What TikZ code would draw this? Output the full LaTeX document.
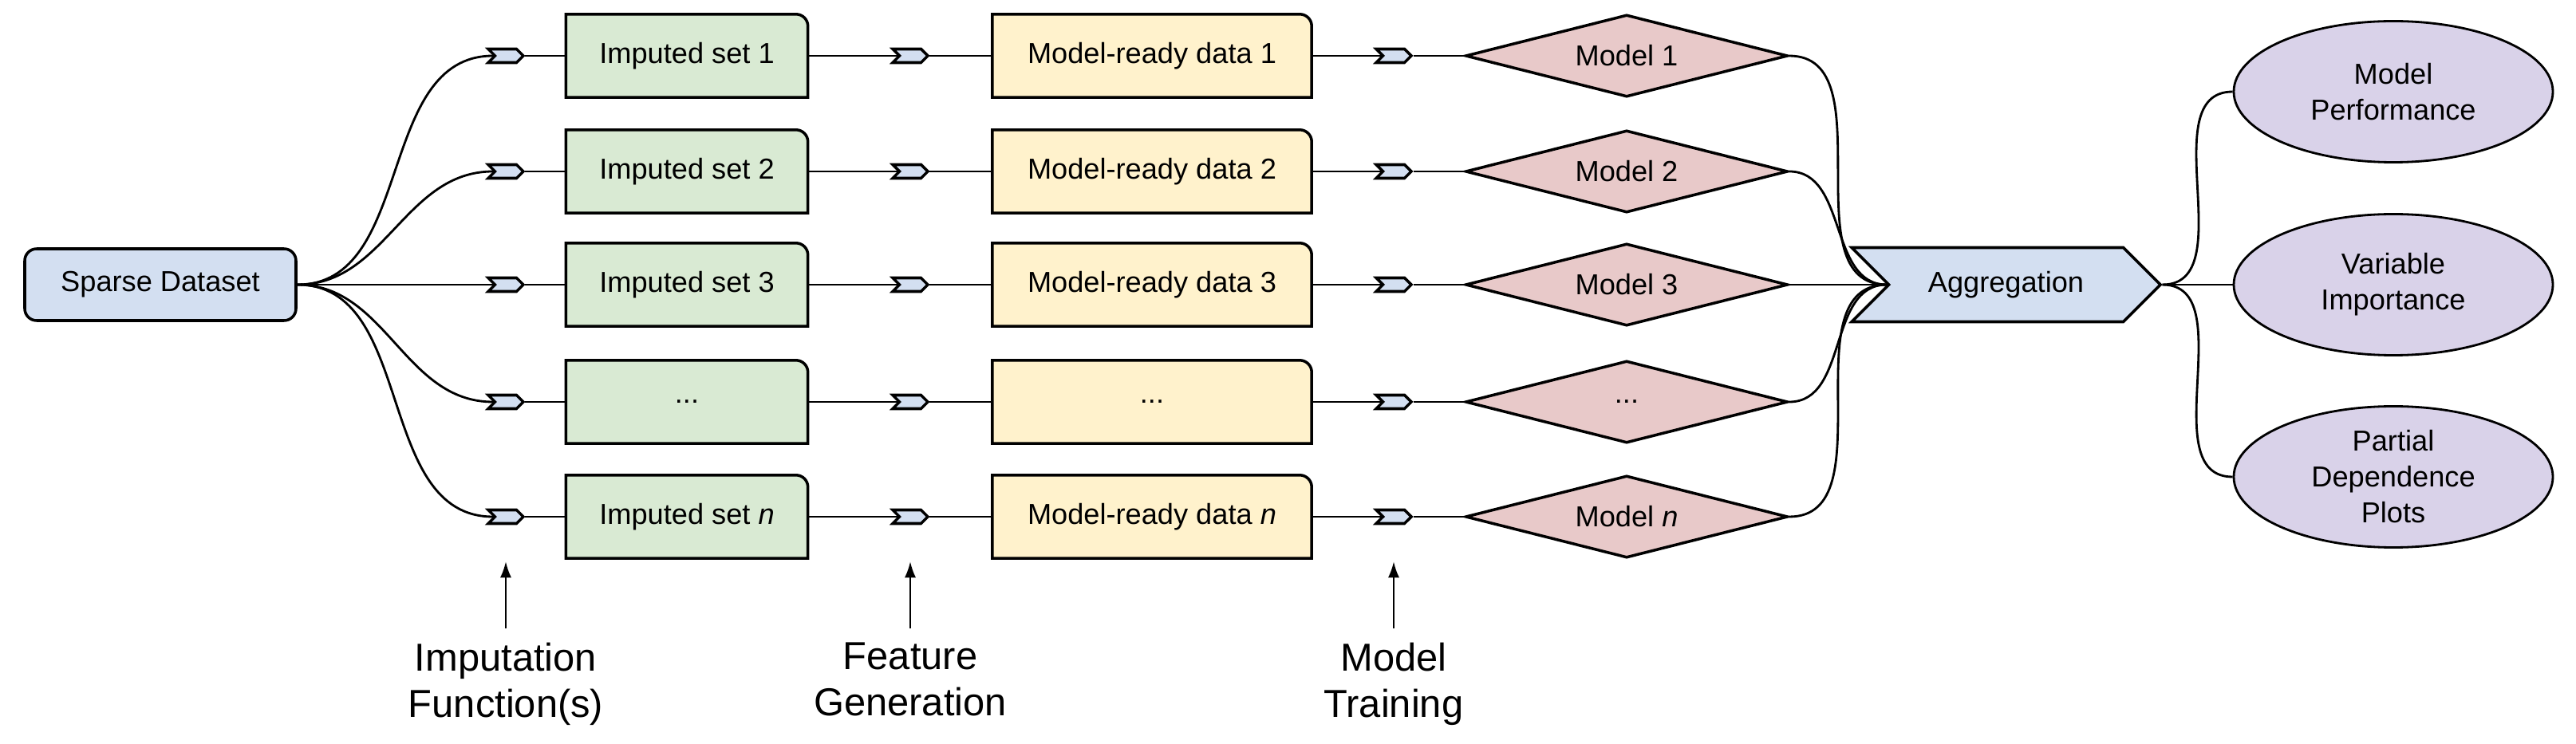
\documentclass[tikz,border=0pt]{standalone}
\usepackage{fontspec}
\setmainfont{Liberation Sans}
\usetikzlibrary{shapes.geometric,shapes.symbols,arrows.meta,backgrounds}

\definecolor{dsblue}{RGB}{211,223,241}
\definecolor{setgreen}{RGB}{217,234,211}
\definecolor{datayellow}{RGB}{255,242,204}
\definecolor{modelpink}{RGB}{232,201,201}
\definecolor{outpurple}{RGB}{217,210,233}

\tikzset{
  boxfont/.style={font=\fontsize{10.3}{12.8}\selectfont},
  boxline/.style={draw=black, line width=1pt},
  sparsebox/.style={boxfont, boxline, fill=dsblue, rounded corners=0.15cm, minimum width=3.4cm, minimum height=0.9cm, inner sep=0pt},
  setbox/.style={boxfont, minimum width=3.02cm, minimum height=1.03cm, inner sep=0pt},
  databox/.style={boxfont, minimum width=3.99cm, minimum height=1.03cm, inner sep=0pt},
  modelshape/.style={boxfont, boxline, fill=modelpink, diamond, aspect=3.9, minimum width=4.04cm, minimum height=1.03cm, inner sep=0pt},
  chevron/.style={boxline, fill=dsblue, signal, signal from=west, signal to=east, minimum width=0.44cm, minimum height=0.17cm, inner sep=0pt},
  aggshape/.style={boxfont, boxline, fill=dsblue, signal, signal from=west, signal to=east, minimum width=3.87cm, minimum height=0.93cm, inner sep=0pt},
  outshape/.style={boxfont, draw=black, line width=0.8pt, fill=outpurple, ellipse, align=center, minimum width=4cm, minimum height=1.77cm, inner sep=0pt},
  link/.style={line width=0.8pt},
  steplabel/.style={font=\fontsize{13.9}{16.5}\selectfont, align=center, anchor=north, inner sep=0pt},
  uparrow/.style={line width=0.6pt, -{Latex[length=0.2cm,width=0.14cm]}, shorten <=0.17cm, shorten >=0.46cm}
}

\begin{document}
\begin{tikzpicture}
    \useasboundingbox (0,0) rectangle (32.29,-9.33);
    % source
    \node (sparse) at (2.01,-3.57) [sparsebox] {Sparse Dataset};
    % imputation
    \node (mi1) at (6.34,-0.70) [chevron] {};
    \node (mi2) at (6.34,-2.15) [chevron] {};
    \node (mi3) at (6.34,-3.57) [chevron] {};
    \node (mi4) at (6.34,-5.04) [chevron] {};
    \node (mi5) at (6.34,-6.48) [chevron] {};
    \node (i1) at (8.61,-0.70) [setbox] {Imputed set 1};
    \node (i2) at (8.61,-2.15) [setbox] {Imputed set 2};
    \node (i3) at (8.61,-3.57) [setbox] {Imputed set 3};
    \node (i4) at (8.61,-5.04) [setbox] {...};
    \node (i5) at (8.61,-6.48) [setbox] {Imputed set \textit{n}};
    % feature generation
    \node (mf1) at (11.41,-0.70) [chevron] {};
    \node (mf2) at (11.41,-2.15) [chevron] {};
    \node (mf3) at (11.41,-3.57) [chevron] {};
    \node (mf4) at (11.41,-5.04) [chevron] {};
    \node (mf5) at (11.41,-6.48) [chevron] {};
    \node (r1) at (14.44,-0.70) [databox] {Model-ready data 1};
    \node (r2) at (14.44,-2.15) [databox] {Model-ready data 2};
    \node (r3) at (14.44,-3.57) [databox] {Model-ready data 3};
    \node (r4) at (14.44,-5.04) [databox] {...};
    \node (r5) at (14.44,-6.48) [databox] {Model-ready data \textit{n}};
    % model training
    \node (mt1) at (17.47,-0.70) [chevron] {};
    \node (mt2) at (17.47,-2.15) [chevron] {};
    \node (mt3) at (17.47,-3.57) [chevron] {};
    \node (mt4) at (17.47,-5.04) [chevron] {};
    \node (mt5) at (17.47,-6.48) [chevron] {};
    \node (d1) at (20.39,-0.70) [modelshape] {Model 1};
    \node (d2) at (20.39,-2.15) [modelshape] {Model 2};
    \node (d3) at (20.39,-3.57) [modelshape] {Model 3};
    \node (d4) at (20.39,-5.04) [modelshape] {...};
    \node (d5) at (20.39,-6.48) [modelshape] {Model \textit{n}};
    % aggregation and outputs
    \node (agg) at (25.145,-3.57) [aggshape] {Aggregation};
    \node (perf) at (30.0,-1.15) [outshape] {Model\\Performance};
    \node (varimp) at (30.0,-3.57) [outshape] {Variable\\Importance};
    \node (pdp) at (30.0,-5.98) [outshape] {Partial\\Dependence\\Plots};
    % step labels
    \node (limp) at (6.34,-8.05) [steplabel] {Imputation\\Function(s)};
    \node (lfeat) at (11.41,-8.05) [steplabel] {Feature\\Generation};
    \node (ltrain) at (17.47,-8.05) [steplabel] {Model\\Training};

    % boxes with one round corner
    \begin{scope}[on background layer]
        \foreach \b/\c in {i1/setgreen,i2/setgreen,i3/setgreen,i4/setgreen,i5/setgreen,r1/datayellow,r2/datayellow,r3/datayellow,r4/datayellow,r5/datayellow}
            \draw[boxline, fill=\c] (\b.south west) -- (\b.north west) -- ([xshift=-0.15cm]\b.north east)
                arc[start angle=90, end angle=0, radius=0.15cm] -- (\b.south east) -- cycle;
    \end{scope}

    % connectors
    \draw[link] (sparse.east) to[out=0,in=180] (mi1.west);
    \draw[link] (sparse.east) to[out=0,in=180] (mi2.west);
    \draw[link] (sparse.east) -- (mi3.west);
    \draw[link] (sparse.east) to[out=0,in=180] (mi4.west);
    \draw[link] (sparse.east) to[out=0,in=180] (mi5.west);
    \draw[link] (mi1.east) -- (i1.west);
    \draw[link] (mi2.east) -- (i2.west);
    \draw[link] (mi3.east) -- (i3.west);
    \draw[link] (mi4.east) -- (i4.west);
    \draw[link] (mi5.east) -- (i5.west);
    \draw[link] (i1.east) -- (mf1.west);
    \draw[link] (i2.east) -- (mf2.west);
    \draw[link] (i3.east) -- (mf3.west);
    \draw[link] (i4.east) -- (mf4.west);
    \draw[link] (i5.east) -- (mf5.west);
    \draw[link] (mf1.east) -- (r1.west);
    \draw[link] (mf2.east) -- (r2.west);
    \draw[link] (mf3.east) -- (r3.west);
    \draw[link] (mf4.east) -- (r4.west);
    \draw[link] (mf5.east) -- (r5.west);
    \draw[link] (r1.east) -- (mt1.west);
    \draw[link] (r2.east) -- (mt2.west);
    \draw[link] (r3.east) -- (mt3.west);
    \draw[link] (r4.east) -- (mt4.west);
    \draw[link] (r5.east) -- (mt5.west);
    \draw[link] (mt1.east) -- (d1.west);
    \draw[link] (mt2.east) -- (d2.west);
    \draw[link] (mt3.east) -- (d3.west);
    \draw[link] (mt4.east) -- (d4.west);
    \draw[link] (mt5.east) -- (d5.west);
    \draw[link] (d1.east) to[out=0,in=180] (agg.west);
    \draw[link] (d2.east) to[out=0,in=180] (agg.west);
    \draw[link] (d3.east) -- (agg.west);
    \draw[link] (d4.east) to[out=0,in=180] (agg.west);
    \draw[link] (d5.east) to[out=0,in=180] (agg.west);
    \draw[link] (agg.east) to[out=0,in=180] (perf.west);
    \draw[link] (agg.east) -- (varimp.west);
    \draw[link] (agg.east) to[out=0,in=180] (pdp.west);
    \draw[uparrow] (limp.north) -- (mi5.south);
    \draw[uparrow] (lfeat.north) -- (mf5.south);
    \draw[uparrow] (ltrain.north) -- (mt5.south);
\end{tikzpicture}
\end{document}
